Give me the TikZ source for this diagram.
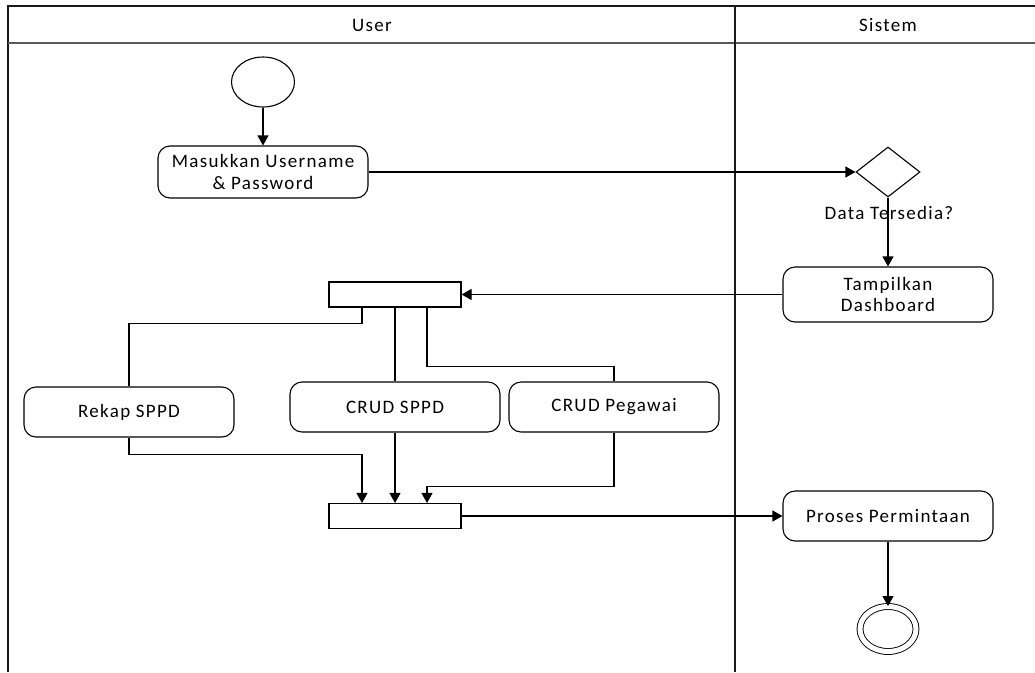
\documentclass[tikz,border=0pt]{standalone}
\usepackage{fontspec}
\setmainfont{Carlito}[LetterSpace=7]
\usetikzlibrary{shapes,arrows.meta,positioning,calc}

\begin{document}
\begin{tikzpicture}[
    x=1pt, y=-1pt,
    font=\fontsize{19}{21.5}\selectfont,
    lane/.style={line width=1.3pt, draw=black!90},
    act/.style={rectangle, rounded corners=12pt, draw, line width=1.1pt, minimum width=210pt, minimum height=52pt, align=center},
    bar/.style={rectangle, draw, line width=1.1pt, minimum width=132pt, minimum height=25pt, inner sep=0pt},
    startnode/.style={ellipse, draw, line width=1.1pt, minimum width=63pt, minimum height=50pt, inner sep=0pt},
    endnode/.style={ellipse, draw, double, double distance=5pt, line width=0.9pt, minimum width=56pt, minimum height=45pt, inner sep=0pt},
    decision/.style={diamond, draw, line width=1.1pt, minimum width=64pt, minimum height=50pt, inner sep=0pt},
    arrow/.style={-{Triangle[length=10pt,width=11pt]}, line width=1.1pt},
    link/.style={line width=1.1pt}
]
    \useasboundingbox (0,0) rectangle (1035,672);

    % swimlanes
    \draw[lane] (8,672) -- (8,6) -- (1035,6);
    \draw[lane, draw=black!65, line width=1.8pt] (8,43) -- (1035,43);
    \draw[lane] (735,6) -- (735,672);
    \node (user) at (372,25) {User};
    \node (sistem) at (888,25) {Sistem};

    % user lane
    \node[startnode] (start) at (263,82) {};
    \node[act] (login) at (263,172) {Masukkan Username\\\& Password};
    \node[bar] (fork) at (395,294.5) {};
    \node[act, minimum height=50pt] (rekap) at (129,412) {Rekap SPPD};
    \node[act, minimum height=50pt] (crudsppd) at (395,407) {CRUD SPPD};
    \node[act, minimum height=50pt] (pegawai) at (614,407) {CRUD Pegawai};
    \node[bar] (join) at (395,516) {};

    % sistem lane
    \node[decision] (cek) at (888,172) {};
    \node (ceklabel) at (889,213) {Data Tersedia?};
    \node[act, minimum height=55pt] (dash) at (888,294.5) {Tampilkan\\Dashboard};
    \node[act, minimum height=50pt] (proses) at (888,516) {Proses Permintaan};
    \node[endnode] (finish) at (888,629) {};

    \draw[arrow] (start) -- (login);
    \draw[arrow] (login) -- (cek);
    \draw[arrow] (cek) -- (dash);
    \draw[arrow] (dash) -- (fork);

    \draw[link] ([xshift=-33pt]fork.south) -- ++(0,16) -| (rekap.north);
    \draw[link] (fork.south) -- (crudsppd.north);
    \draw[link] ([xshift=32pt]fork.south) -- ++(0,59) -| (pegawai.north);

    \draw[arrow] (rekap.south) -- ++(0,17) -| ([xshift=-33pt]join.north);
    \draw[arrow] (crudsppd.south) -- (join.north);
    \draw[arrow] (pegawai.south) -- ++(0,54) -| ([xshift=32pt]join.north);

    \draw[arrow] (join) -- (proses);
    \draw[arrow] (proses) -- (finish);
\end{tikzpicture}
\end{document}
